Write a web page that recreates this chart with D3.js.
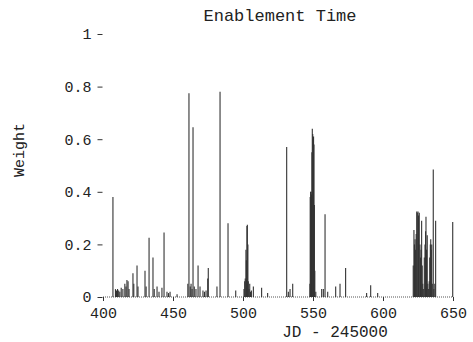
<!DOCTYPE html>
<html>
<head>
<meta charset="utf-8">
<script src="https://cdn.jsdelivr.net/npm/d3@7"></script>
<style>
body { margin: 0; background: #fff; }
text { font-family: "Liberation Mono", "Courier New", monospace; fill: #222; }
</style>
</head>
<body>
<div id="chart"></div>
<script>
// JD - 245000 of each sample and its weight
const jd = [
  407.1, 408.9, 409.6, 410.4, 411.2, 412.0, 413.0, 414.2, 415.6, 416.4, 417.1, 417.9, 418.6,
  421.4, 422.0, 424.3, 425.0, 430.0, 430.8, 432.9, 435.7, 436.6, 438.6, 440.0, 442.1, 443.6,
  445.7, 446.8, 447.9, 452.9,
  460.6, 461.4, 462.3, 462.9, 463.6, 464.3, 465.2, 466.4, 467.9, 469.3, 471.4, 472.5, 473.6,
  474.8, 475.2, 481.4, 483.6, 489.3, 494.8,
  500.7, 501.2, 501.6, 502.1, 502.4, 502.8, 503.1, 503.5, 503.8, 504.3, 504.8, 505.4, 506.0,
  507.4, 513.3, 517.6, 531.2, 532.4, 533.6, 535.5,
  547.8, 548.0, 548.3, 548.6, 548.9, 549.2, 549.5, 549.8, 550.1, 550.4, 550.7, 551.0, 551.3,
  552.0, 556.2, 557.4, 558.6, 560.5, 566.2, 569.3, 573.3, 588.3, 591.2, 596.2,
  621.6, 622.1, 622.5, 622.9, 623.3, 623.7, 624.1, 624.5, 625.0, 625.4, 625.9, 626.4, 626.8,
  627.2, 627.6, 628.0, 628.4, 628.8, 629.5, 630.0, 630.4, 630.7, 631.1, 631.6, 632.0, 632.4,
  633.0, 633.4, 633.8, 634.1, 634.5, 634.8, 635.2, 635.9, 636.3, 637.0, 637.6, 649.8
];
const weight = [
  0.38, 0.03, 0.025, 0.03, 0.025, 0.02, 0.035, 0.03, 0.05, 0.04, 0.065, 0.06, 0.03,
  0.09, 0.05, 0.12, 0.04, 0.10, 0.04, 0.225, 0.15, 0.03, 0.04, 0.02, 0.035, 0.245,
  0.02, 0.015, 0.02, 0.01,
  0.05, 0.775, 0.04, 0.05, 0.03, 0.645, 0.04, 0.03, 0.12, 0.04, 0.025, 0.02, 0.025,
  0.07, 0.11, 0.04, 0.78, 0.28, 0.025,
  0.03, 0.06, 0.07, 0.18, 0.14, 0.27, 0.275, 0.20, 0.06, 0.03, 0.05, 0.02, 0.025,
  0.04, 0.035, 0.015, 0.57, 0.02, 0.03, 0.05,
  0.05, 0.38, 0.40, 0.40, 0.39, 0.55, 0.64, 0.62, 0.60, 0.61, 0.58, 0.35, 0.10,
  0.02, 0.03, 0.03, 0.315, 0.02, 0.04, 0.05, 0.11, 0.015, 0.045, 0.015,
  0.12, 0.255, 0.20, 0.22, 0.18, 0.24, 0.325, 0.32, 0.325, 0.31, 0.32, 0.20, 0.15,
  0.18, 0.29, 0.12, 0.05, 0.03, 0.15, 0.20, 0.25, 0.305, 0.18, 0.235, 0.05, 0.03,
  0.06, 0.15, 0.20, 0.22, 0.18, 0.20, 0.05, 0.485, 0.03, 0.05, 0.29, 0.285
];

const xTicks = [400, 450, 500, 550, 600, 650];
const yTicks = [0, 0.2, 0.4, 0.6, 0.8, 1];
const yTickLabels = ['0', '0.2', '0.4', '0.6', '0.8', '1'];

const width = 473, height = 342;
const plotLeft = 103, plotRight = 453, plotTop = 34, plotBottom = 297;

let weights = jd.map((d, i) => ({jd: d, w: weight[i]}));

const svg = d3.select('#chart')
              .append('svg')
              .attr('width', width)
              .attr('height', height);

let scaleX = d3.scaleLinear().domain([400, 650]).range([plotLeft, plotRight]);
let scaleY = d3.scaleLinear().domain([0, 1]).range([plotBottom, plotTop]);

let xAxis = d3.axisBottom(scaleX)
              .tickValues(xTicks)
              .tickSize(4)
              .tickPadding(6)
              .tickFormat(d3.format('d'));

let yAxis = d3.axisLeft(scaleY)
              .tickValues(yTicks)
              .tickSize(5)
              .tickPadding(6)
              .tickFormat((d, i) => yTickLabels[i]);

// dotted baseline
svg.append('line')
   .attr('x1', scaleX(400))
   .attr('x2', scaleX(650))
   .attr('y1', scaleY(0))
   .attr('y2', scaleY(0))
   .style('stroke', '#555')
   .style('stroke-width', 1)
   .style('stroke-dasharray', '1,1');

// bars
svg.selectAll('.bar')
   .data(weights)
   .enter()
   .append('line')
   .attr('class', 'bar')
   .attr('x1', d => scaleX(d.jd))
   .attr('x2', d => scaleX(d.jd))
   .attr('y1', scaleY(0))
   .attr('y2', d => scaleY(d.w))
   .style('stroke', '#333')
   .style('stroke-width', 1.1);

var xAxisGroup = svg.append('g')
                    .attr('class', 'x axis')
                    .attr('transform', 'translate(0,' + scaleY(0) + ')')
                    .call(xAxis);

var yAxisGroup = svg.append('g')
                    .attr('class', 'y axis')
                    .attr('transform', 'translate(' + (plotLeft - 0.5) + ',0)')
                    .call(yAxis);

svg.selectAll('.domain').remove();
svg.selectAll('.axis line').style('stroke', '#333');
svg.selectAll('.axis text')
   .style('font-family', '"Liberation Mono", monospace')
   .style('font-size', '15px')
   .style('fill', '#222');

svg.append('text')
   .attr('x', 280)
   .attr('y', 21)
   .style('text-anchor', 'middle')
   .style('font-size', '17px')
   .text('Enablement Time');

svg.append('text')
   .attr('x', 335)
   .attr('y', 337)
   .style('text-anchor', 'middle')
   .style('font-size', '16px')
   .text('JD - 245000');

svg.append('text')
   .attr('transform', 'translate(24,150) rotate(-90)')
   .style('text-anchor', 'middle')
   .style('font-size', '15px')
   .text('Weight');
</script>
</body>
</html>
